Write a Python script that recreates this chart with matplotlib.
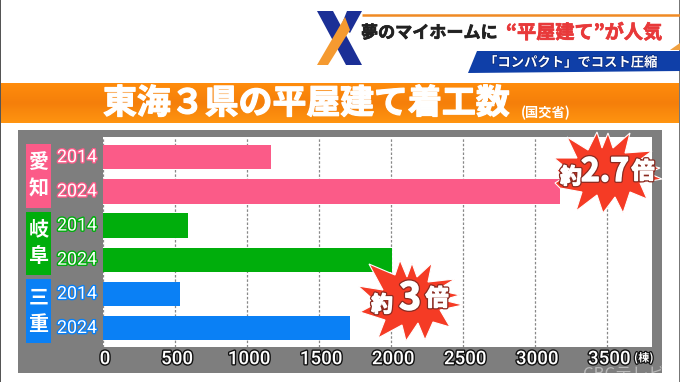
import numpy as np
import matplotlib
matplotlib.use("Agg")
import matplotlib.pyplot as plt
from matplotlib.patches import Polygon, Rectangle
from matplotlib.transforms import ScaledTranslation
import matplotlib.patheffects as pe

plt.rcParams['font.family'] = ['Noto Sans CJK JP', 'DejaVu Sans']

# Data
prefs = ['愛知', '岐阜', '三重']
pref_colors = ['#FB5B88', '#00AE0C', '#0A80F5']
years = ['2014', '2024']
aichi = [1172, 3178]
gifu = [596, 2012]
mie = [538, 1718]
xticks = [0, 500, 1000, 1500, 2000, 2500, 3000, 3500]

W, H = 680, 382
fig = plt.figure(figsize=(W / 100, H / 100), dpi=100, facecolor='white')

# background layer in pixel coords
bg = fig.add_axes([0, 0, 1, 1])
bg.axis('off')


def stroke(w, c='white'):
    return [pe.withStroke(linewidth=w, foreground=c)]


# frame lines at the sides
bg.add_patch(Rectangle((0, 0), 1.2, H, color='#555555', lw=0))
bg.add_patch(Rectangle((678.6, 0), 1.4, H, color='#777777', lw=0))

# header
bg.plot([362, 680], [14.5, 14.5], color='#F08A24', lw=1.8, solid_capstyle='butt')
bg.add_patch(Polygon([(317, 11), (333, 11), (362, 65), (346, 65)], color='#1B2F96', lw=0))
bg.add_patch(Polygon([(347, 11), (362, 11), (350, 33), (341, 26)], color='#1B2F96', lw=0))
bg.add_patch(Polygon([(345, 17), (350, 30), (328, 65), (317, 65)], color='#F59A30', lw=0))
bg.text(361, 33, '夢のマイホームに', fontsize=12.3, fontweight='bold', color='#222222', ha='left', va='center',
        path_effects=stroke(0.5, '#222222'))
bg.text(506, 33, '“平屋建て”が人気', fontsize=13.8, fontweight='bold', color='#E8393A', ha='left', va='center',
        path_effects=stroke(0.5, '#E8393A'))
bg.add_patch(Polygon([(670, 50), (680, 43), (680, 50)], color='#F0A040', lw=0))
bg.add_patch(Polygon([(477, 51), (680, 51), (680, 71), (468, 73)], color='#0F3FA8', lw=0))
bg.text(571, 62.5, '「コンパクト」でコスト圧縮', fontsize=9.6, fontweight='bold', color='white', ha='center', va='center',
        path_effects=stroke(1.2, '#0A2C80'))

# orange banner, slight vertical gradient
grad = np.linspace(0, 1, 40).reshape(-1, 1)
cm = matplotlib.colors.LinearSegmentedColormap.from_list('o', ['#FF8C0C', '#F57F0A', '#FF9410'])
bg.imshow(grad, extent=(1, 679, 123, 83), cmap=cm, aspect='auto', zorder=1)
bg.set_xlim(0, W)
bg.set_ylim(H, 0)
bg.text(103, 103, '東海３県の平屋建て着工数', fontsize=24.4, fontweight='bold', color='white', ha='left', va='center',
        zorder=3, path_effects=stroke(0.9, 'white'))
bg.text(521, 113, '(国交省)', fontsize=9.5, fontweight='bold', color='white', ha='left', va='center', zorder=3)

# gray panel
panel = Rectangle((18, 130), 644, 243, color='#7E7E7E', lw=0, zorder=1)
bg.add_patch(panel)

# the chart itself
left, right, top, bot = 102.5, 652, 137.3, 346.7
ax = fig.add_axes([left / W, 1 - bot / H, (right - left) / W, (bot - top) / H])
ax.set_facecolor('white')
ax.set_xlim(0, (right - left) / 0.14406)
ax.set_ylim(5.547, -0.583)

vals = aichi + gifu + mie
cols = [c for c in pref_colors for _ in years]
ypos = np.arange(len(vals))
ax.set_axisbelow(True)
ax.xaxis.grid(True, color='#888888', ls=(0, (2, 1.5)), lw=0.9)
ax.barh(ypos, vals, height=0.71, color=cols)

ax.set_xticks(xticks)
ax.set_yticks([])
ax.tick_params(axis='x', length=0, pad=2.5)
ax.set_xticklabels([str(t) for t in xticks], fontsize=13.5, fontweight='medium', color='white',
                   family=['Roboto', 'DejaVu Sans'],
                   path_effects=[pe.withStroke(linewidth=2.0, foreground='#111111')])
shift = ScaledTranslation(1.8 / 72, 0, fig.dpi_scale_trans)
for lbl in ax.get_xticklabels():
    lbl.set_transform(lbl.get_transform() + shift)
for s in ax.spines.values():
    s.set_visible(False)

# year labels, prefecture tags
ann = fig.add_axes([0, 0, 1, 1])
ann.set_xlim(0, W)
ann.set_ylim(H, 0)
ann.axis('off')
ann.patch.set_alpha(0)

for i, yr in enumerate(years * 3):
    yy = 157.2 + 34.16 * i
    ann.text(77, yy, yr, fontsize=12.8, color='white', ha='center', va='center',
             family=['Roboto', 'DejaVu Sans'],
             path_effects=stroke(2, cols[i]))

for j, (p, c) in enumerate(zip(prefs, pref_colors)):
    y0 = 144 + j * 67.6
    ann.add_patch(Rectangle((25.7, y0), 25.3, 63.5, color=c, lw=0))
    ann.text(38.5, y0 + 17.5, p[0], fontsize=14.4, fontweight='bold', color='white', ha='center', va='center')
    ann.text(38.5, y0 + 44, p[1], fontsize=14.4, fontweight='bold', color='white', ha='center', va='center')

ann.text(634, 358, '(棟)', fontsize=8, fontweight='bold', color='white', ha='left', va='center',
         path_effects=stroke(1.8, '#111111'))
wm = ann.text(624, 375, 'CBCテレビ', fontsize=12, style='italic', color='white', alpha=0.45, ha='center', va='center')
wm.set_clip_path(Rectangle((18, 130), 644, 243, transform=ann.transData))

# starbursts, points
star1 = [(567, 137), (588, 150), (597, 132), (602, 148), (608, 133), (613, 148), (630, 133), (625, 153),
         (652, 151), (637, 162), (660, 168), (648, 173), (662, 179), (640, 183), (647, 199), (630, 192),
         (623, 213), (615, 197), (603, 213), (597, 195), (576, 211), (582, 192), (560, 188), (555, 183),
         (563, 178), (557, 170), (565, 167), (554, 158), (577, 158)]
star2 = [(369, 264), (395, 275), (400, 260), (407, 277), (412, 263), (417, 277), (432, 263), (428, 282),
         (455, 279), (437, 290), (460, 295), (443, 300), (463, 305), (440, 310), (450, 327), (433, 322),
         (425, 340), (418, 323), (406, 341), (402, 325), (378, 338), (385, 320), (360, 312), (377, 303),
         (358, 286), (383, 290)]
for st in (star1, star2):
    ann.add_patch(Polygon(st, closed=True, facecolor='#F53B25', edgecolor='white', lw=0.8, zorder=4))


def star_text(x, y, s, size):
    # dark rim, then a thin white one to fatten the glyphs
    ann.text(x, y, s, fontsize=size, fontweight='bold', color='white', ha='center', va='center', zorder=5,
             path_effects=[pe.Stroke(linewidth=2.8, foreground='#8A2A20'),
                           pe.Stroke(linewidth=1.0, foreground='white'), pe.Normal()])


star_text(571, 177, '約', 15.5)
star_text(605, 172, '2.7', 23)
star_text(643, 172, '倍', 16.5)
star_text(382, 305, '約', 15.5)
star_text(410, 298, '3', 27)
star_text(437, 299, '倍', 16.5)

fig.savefig('out.png', dpi=100)
